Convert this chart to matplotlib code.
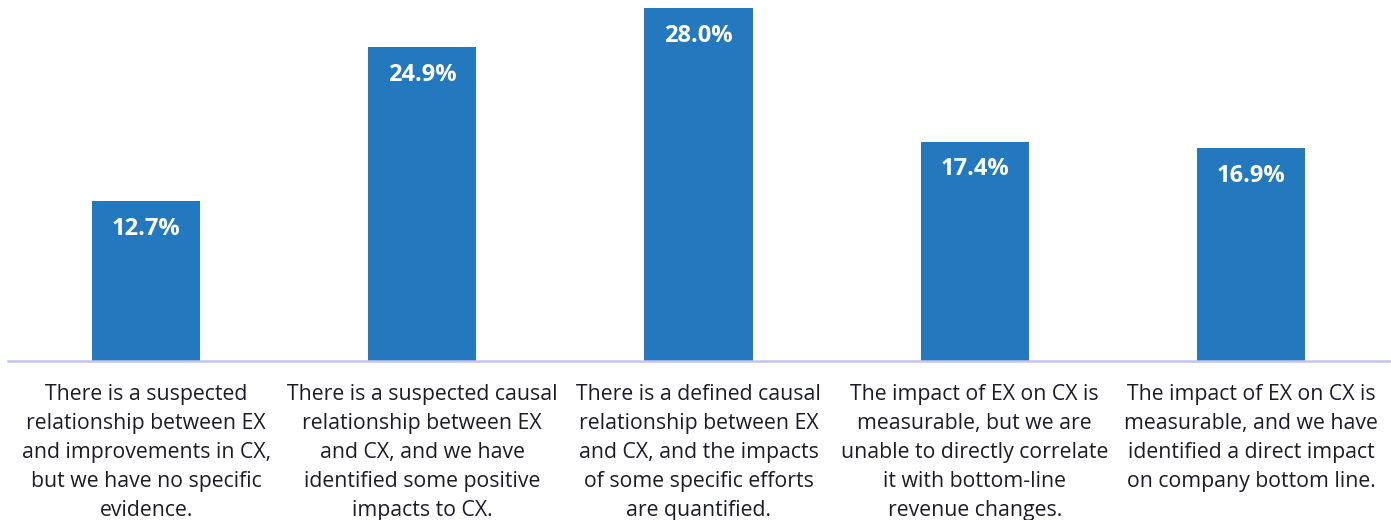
import matplotlib.pyplot as plt

plt.rcParams['font.family'] = ['Open Sans', 'DejaVu Sans']

categories = [
    "There is a suspected\nrelationship between EX\nand improvements in CX,\nbut we have no specific\nevidence.",
    "There is a suspected causal\nrelationship between EX\nand CX, and we have\nidentified some positive\nimpacts to CX.",
    "There is a defined causal\nrelationship between EX\nand CX, and the impacts\nof some specific efforts\nare quantified.",
    "The impact of EX on CX is\nmeasurable, but we are\nunable to directly correlate\nit with bottom-line\nrevenue changes.",
    "The impact of EX on CX is\nmeasurable, and we have\nidentified a direct impact\non company bottom line.",
]
values = [12.7, 24.9, 28.0, 17.4, 16.9]

fig = plt.figure(figsize=(13.91, 5.2), dpi=100)
ax = fig.add_axes([8 / 1391, 159 / 520, 1381 / 1391, 361 / 520])

x = range(len(values))
bars = ax.bar(x, values, width=108 / 276, color='#2479be')

for b, v in zip(bars, values):
    ax.text(b.get_x() + b.get_width() / 2, v - 1.25, f"{v:.1f}%",
            ha='center', va='top', color='white', fontsize=17, fontweight='bold')

for i, c in enumerate(categories):
    ax.text(i, -1.8, c, ha='center', va='top', fontsize=15.3, color='#1c1c28',
            linespacing=1.5)

ax.set_xlim(-0.5, len(values) - 0.5)
ax.set_ylim(0, 28.63)
for s in ['top', 'right', 'left']:
    ax.spines[s].set_visible(False)
ax.spines['bottom'].set_color('#c5c3f0')
ax.spines['bottom'].set_linewidth(1.8)
ax.set_xticks([])
ax.set_yticks([])

fig.savefig('out.png', dpi=100)
